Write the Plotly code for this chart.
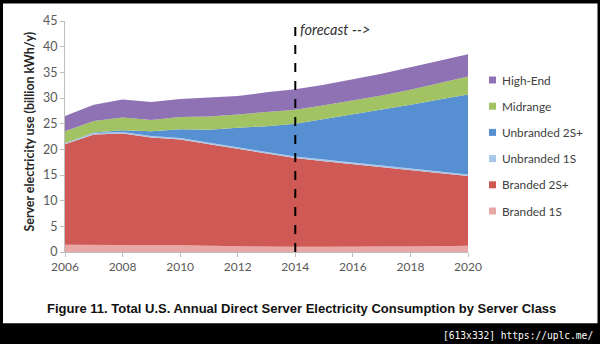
import plotly.graph_objects as go

# ---------------- data ----------------
years = list(range(2006, 2021))
branded_1s   = [1.4, 1.4, 1.4, 1.3, 1.3, 1.2, 1.1, 1.0, 1.0, 1.0, 1.0, 1.0, 1.1, 1.1, 1.2]
branded_2s   = [19.6, 21.5, 21.7, 21.0, 20.6, 19.8, 19.1, 18.2, 17.3, 16.7, 16.1, 15.5, 14.8, 14.2, 13.6]
unbranded_1s = [0.2, 0.3, 0.3, 0.3, 0.3, 0.3, 0.3, 0.3, 0.3, 0.3, 0.3, 0.3, 0.3, 0.3, 0.3]
unbranded_2s = [0.0, 0.1, 0.3, 0.9, 1.7, 2.5, 3.7, 5.0, 6.4, 7.9, 9.4, 10.9, 12.5, 14.1, 15.6]
midrange     = [2.3, 2.2, 2.5, 2.2, 2.4, 2.6, 2.6, 2.7, 2.7, 2.7, 2.7, 2.8, 2.9, 3.2, 3.5]
high_end     = [3.0, 3.2, 3.5, 3.5, 3.5, 3.7, 3.6, 3.9, 4.0, 4.0, 4.1, 4.2, 4.4, 4.3, 4.3]

series_names = ["Branded 1S", "Branded 2S+", "Unbranded 1S", "Unbranded 2S+", "Midrange", "High-End"]
series_values = [branded_1s, branded_2s, unbranded_1s, unbranded_2s, midrange, high_end]
series_colors = ["#e9a8a6", "#cf5a55", "#a8c6e8", "#5790d2", "#a2c363", "#8e72b4"]

forecast_year = 2014
forecast_label = "forecast -->"
y_title = "Server electricity use (billion kWh/y)"
caption = "Figure 11. Total U.S. Annual Direct Server Electricity Consumption by Server Class"
watermark = "[613x332] https://uplc.me/"

# ---------------- figure ----------------
fig = go.Figure()
for name, vals, col in zip(series_names, series_values, series_colors):
    fig.add_trace(go.Scatter(
        x=years, y=vals, name=name, stackgroup="one", mode="lines",
        line=dict(width=0, color=col), fillcolor=col, showlegend=False,
        hoverinfo="x+y+name",
    ))

L, R, T, B = 65, 132, 21, 92
W, H = 600, 344
pw, ph = W - L - R, H - T - B


def px_x(px):
    return (px - L) / pw


def px_y(py):
    return (H - B - py) / ph


shapes = [
    # white page on black background
    dict(type="rect", xref="paper", yref="paper", layer="below",
         x0=px_x(3), x1=px_x(597.5), y0=px_y(323.3), y1=px_y(3.5),
         fillcolor="white", line=dict(width=0)),
    # forecast dashed line
    dict(type="line", xref="x", yref="y", x0=forecast_year, x1=forecast_year,
         y0=0, y1=44.2, line=dict(color="black", width=2, dash="dash")),
]

annotations = [
    dict(x=px_x(29), y=px_y(131.5), xref="paper", yref="paper", text="<b>" + y_title + "</b>",
         textangle=-90, showarrow=False, xanchor="center", yanchor="middle",
         font=dict(family="Lato", size=12.4, color="#262626")),
    dict(x=forecast_year, y=43.3, xref="x", yref="y", text="<i>" + forecast_label + "</i>",
         showarrow=False, xanchor="left", yanchor="middle", xshift=3,
         font=dict(family="Lato", size=14.5, color="#333333")),
    dict(x=px_x(301), y=px_y(308), xref="paper", yref="paper", text="<b>" + caption + "</b>",
         showarrow=False, xanchor="center", yanchor="middle",
         font=dict(family="Liberation Sans", size=13, color="#111111")),
    dict(x=px_x(594.5), y=px_y(335), xref="paper", yref="paper", text=watermark,
         showarrow=False, xanchor="right", yanchor="middle",
         font=dict(family="DejaVu Sans Mono", size=9.6, color="white")),
]

# custom legend (top entry = top of stack)
leg_top, leg_gap = 80, 26.2
for i, (name, col) in enumerate(zip(series_names[::-1], series_colors[::-1])):
    cy = leg_top + i * leg_gap
    shapes.append(dict(type="rect", xref="paper", yref="paper",
                       x0=px_x(489), x1=px_x(496), y0=px_y(cy + 3.5), y1=px_y(cy - 3.5),
                       fillcolor=col, line=dict(width=0)))
    annotations.append(dict(x=px_x(499.5), y=px_y(cy), xref="paper", yref="paper",
                            text=name, showarrow=False, xanchor="left", yanchor="middle",
                            font=dict(family="Lato", size=11.8, color="#404040")))

fig.update_layout(
    width=W, height=H,
    margin=dict(l=L, r=R, t=T, b=B, pad=0),
    paper_bgcolor="black", plot_bgcolor="white",
    showlegend=False,
    shapes=shapes, annotations=annotations,
    xaxis=dict(range=[2006, 2020], dtick=2, tick0=2006, showgrid=False, zeroline=False,
               showline=True, linecolor="#bfbfbf", linewidth=1,
               ticks="outside", ticklen=4, tickcolor="#bfbfbf",
               tickfont=dict(family="Lato", size=12, color="#595959")),
    yaxis=dict(range=[0, 45], dtick=5, showgrid=False, zeroline=False,
               showline=True, linecolor="#bfbfbf", linewidth=1,
               ticks="outside", ticklen=4, tickcolor="#bfbfbf",
               tickfont=dict(family="Lato", size=12.5, color="#595959")),
)

fig.write_html("out.html")
